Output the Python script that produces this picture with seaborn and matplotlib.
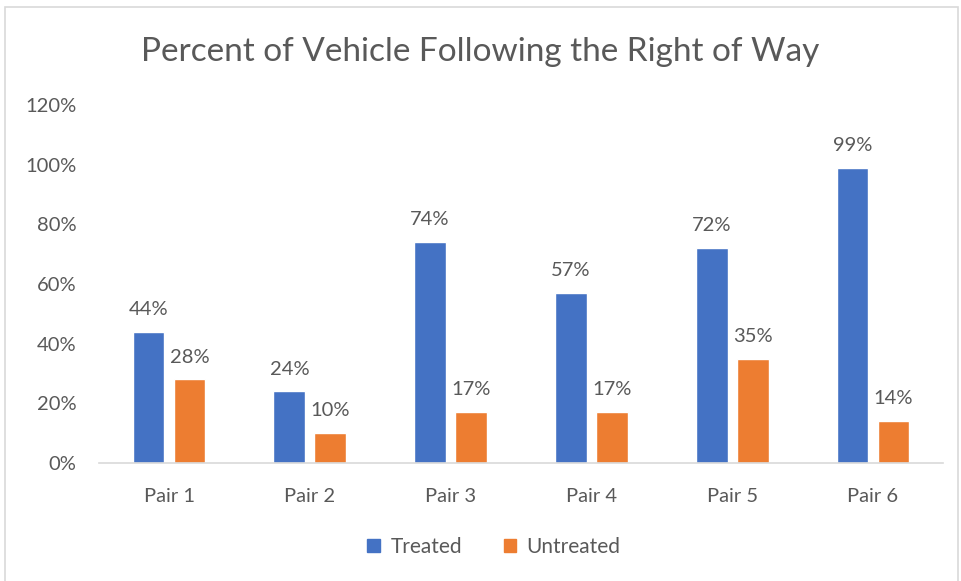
import matplotlib
matplotlib.use('Agg')
import matplotlib.pyplot as plt
import matplotlib.patches as mpatches
import pandas as pd
import seaborn as sns

pairs = ['Pair 1', 'Pair 2', 'Pair 3', 'Pair 4', 'Pair 5', 'Pair 6']
treated = [44, 24, 74, 57, 72, 99]
untreated = [28, 10, 17, 17, 35, 14]
groups = ['Treated', 'Untreated']
colors = ['#4472C4', '#ED7D31']
y_ticks = [0, 20, 40, 60, 80, 100, 120]

df = pd.DataFrame({
    'pair': pairs * 2,
    'group': ['Treated'] * len(pairs) + ['Untreated'] * len(pairs),
    'value': treated + untreated,
})

sns.set_style('white')
plt.rcParams['font.family'] = ['Lato', 'DejaVu Sans']
text_color = '#595959'

fig = plt.figure(figsize=(9.61, 5.81), dpi=100)
ax = fig.add_axes([98.6 / 961, 1 - 463 / 581, 844.8 / 961, 358 / 581])

sns.barplot(data=df, x='pair', y='value', hue='group', hue_order=groups,
            palette=colors, width=0.582, gap=0.22, ax=ax, legend=False,
            saturation=1, errorbar=None)

# value labels above each bar
for cont in ax.containers:
    ax.bar_label(cont, labels=[f'{int(round(v))}%' for v in cont.datavalues],
                 padding=10, fontsize=14.5, color=text_color)

ax.set_ylim(0, 120)
ax.set_xlim(-0.5, len(pairs) - 0.5)
ax.set_yticks(y_ticks)
ax.set_yticklabels([f'{t}%' for t in y_ticks])
ax.tick_params(axis='both', length=0, labelsize=14.5, colors=text_color)
ax.tick_params(axis='x', pad=18)
ax.tick_params(axis='y', pad=16)
ax.set_xlabel('')
ax.set_ylabel('')
for side in ['top', 'right', 'left']:
    ax.spines[side].set_visible(False)
ax.spines['bottom'].set_color('#D9D9D9')
ax.spines['bottom'].set_linewidth(1.2)

fig.text(0.5, 1 - 52 / 581, 'Percent of Vehicle Following the Right of Way',
         ha='center', va='center', fontsize=24, color=text_color)

handles = [mpatches.Patch(color=c, label=g) for c, g in zip(colors, groups)]
fig.legend(handles=handles, loc='center', bbox_to_anchor=(0.514, 1 - 547 / 581),
           ncol=2, frameon=False, fontsize=15, labelcolor=text_color,
           handlelength=0.6, handleheight=0.6, handletextpad=0.5, columnspacing=2.0)

# light frame around the whole chart
border = mpatches.Rectangle((5 / 961, -0.01), 953 / 961, 1 - 7 / 581 + 0.01,
                            transform=fig.transFigure, fill=False,
                            edgecolor='#D9D9D9', linewidth=1.2)
fig.patches.append(border)

fig.savefig('out.png', dpi=100)
